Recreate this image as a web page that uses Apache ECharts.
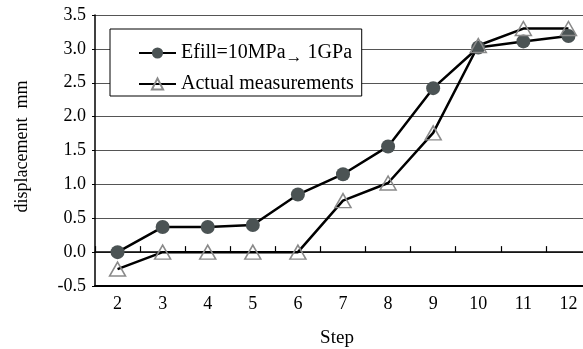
<!DOCTYPE html>
<html>
<head>
<meta charset="utf-8">
<script src="https://cdn.jsdelivr.net/npm/echarts@6/dist/echarts.min.js"></script>
<style>html,body{margin:0;padding:0;background:#fff;}#c{width:583px;height:349px;}</style>
</head>
<body>
<div id="c"></div>
<script>
var steps = ['2','3','4','5','6','7','8','9','10','11','12'];
var efill = [0.0, 0.37, 0.37, 0.40, 0.85, 1.15, 1.56, 2.42, 3.02, 3.11, 3.19];
var actual = [-0.25, 0.0, 0.0, 0.0, 0.0, 0.76, 1.02, 1.76, 3.05, 3.30, 3.30];
var name1 = 'Efill=10MPa\u2192 1GPa';
var name2 = 'Actual measurements';
var yTicks = {min: -0.5, max: 3.5, interval: 0.5};

var font = 'Liberation Serif';
var chart = echarts.init(document.getElementById('c'), null, {renderer: 'canvas'});
chart.setOption({
  animation: false,
  backgroundColor: '#fff',
  grid: {left: 95, top: 15, width: 496, height: 271, outerBoundsMode: 'none', containLabel: false},
  legend: {
    orient: 'vertical',
    left: 110, top: 29,
    backgroundColor: '#fff',
    borderColor: '#000', borderWidth: 1,
    padding: [14, 8, 2, 28],
    itemWidth: 37, itemHeight: 14, itemGap: 8,
    data: [name1, name2],
    formatter: function (n) {
      if (n === name1) return '{a|Efill=10MPa}{s|\u2192}{a| 1GPa}';
      return '{a|' + n + '}';
    },
    textStyle: {
      fontFamily: font, fontSize: 20, color: '#000',
      rich: {
        a: {fontFamily: font, fontSize: 20, color: '#000'},
        s: {fontFamily: font, fontSize: 17, color: '#000', padding: [9, 0, 0, 0]}
      }
    }
  },
  xAxis: [{
    type: 'category', data: steps, boundaryGap: true,
    axisLine: {show: true, onZero: true, lineStyle: {color: '#000', width: 1.5}},
    axisTick: {show: true, inside: true, interval: 0, length: 6, lineStyle: {color: '#000', width: 1.2}},
    axisLabel: {show: false},
    splitLine: {show: false}
  }, {
    type: 'category', data: steps, boundaryGap: true, position: 'bottom',
    axisLine: {onZero: false, show: true, lineStyle: {color: '#000', width: 2}},
    axisTick: {show: false},
    axisLabel: {fontFamily: font, fontSize: 18, color: '#000', margin: 9},
    name: 'Step', nameLocation: 'middle', nameGap: 43,
    nameTextStyle: {fontFamily: font, fontSize: 19, color: '#000', padding: [0, 12, 0, 0]}
  }],
  yAxis: {
    type: 'value', min: yTicks.min, max: yTicks.max, interval: yTicks.interval,
    axisLine: {show: true, onZero: false, lineStyle: {color: '#000', width: 1.5}},
    axisTick: {show: true, length: 3, lineStyle: {color: '#000'}},
    axisLabel: {fontFamily: font, fontSize: 18, color: '#000', margin: 9,
      formatter: function (v) { return v.toFixed(1); }},
    splitLine: {show: true, lineStyle: {color: '#555', width: 1}},
    name: 'displacement  mm', nameLocation: 'middle', nameGap: 64,
    nameTextStyle: {fontFamily: font, fontSize: 18, color: '#000', padding: [0, 0, 0, 8]}
  },
  series: [{
    name: name1, type: 'line', data: efill, xAxisIndex: 0,
    symbol: 'circle', symbolSize: 14,
    lineStyle: {color: '#000', width: 2.5},
    itemStyle: {color: '#4b5354', borderColor: '#4b5354', borderWidth: 0}
  }, {
    name: name2, type: 'line', data: actual, xAxisIndex: 0,
    symbol: 'triangle', symbolSize: [16, 14],
    lineStyle: {color: '#000', width: 2.5},
    itemStyle: {color: 'rgba(255,255,255,0)', borderColor: '#8a8a8a', borderWidth: 1.5}
  }]
});
</script>
</body>
</html>
